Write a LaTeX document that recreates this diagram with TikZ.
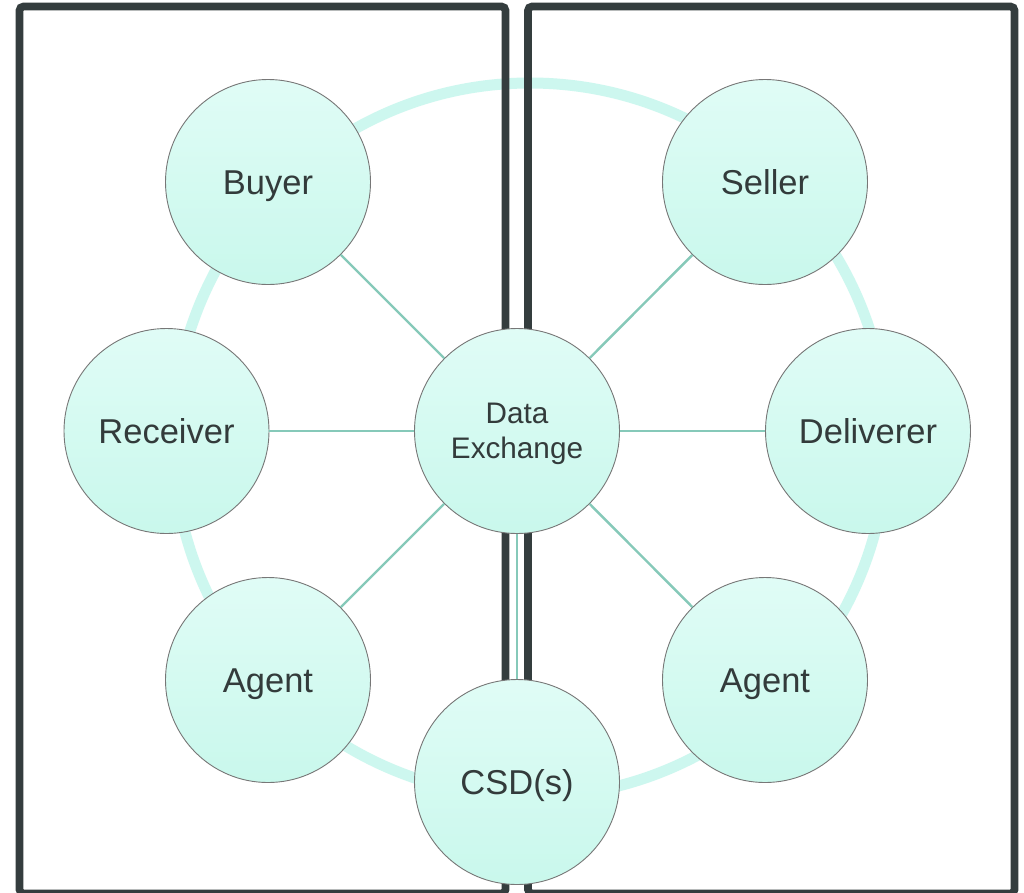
\documentclass[tikz,border=0pt]{standalone}
\usepackage{fontspec}
\setmainfont{Liberation Sans}
\definecolor{ringc}{HTML}{CDF7EF}
\definecolor{spokec}{HTML}{86C9B9}
\definecolor{filltop}{HTML}{E0FCF6}
\definecolor{fillbot}{HTML}{C9F8EC}
\definecolor{edgec}{HTML}{777777}
\definecolor{textc}{HTML}{333B3B}
\definecolor{boxc}{HTML}{343D3E}
\tikzset{
  party/.style={circle, minimum size=205pt, inner sep=0pt, draw=edgec, line width=0.9pt,
    top color=filltop, bottom color=fillbot, text=textc,
    font=\fontsize{34.5pt}{40pt}\selectfont, text height=24.8pt, text depth=0pt},
  hub/.style={party, font=\fontsize{29.7pt}{35pt}\selectfont, align=center, text height=62pt, text depth=6.5pt},
  spoke/.style={draw=spokec, line width=2.4pt},
  ring/.style={draw=ringc, line width=11pt},
  panel/.style={draw=boxc, line width=7.7pt, rounded corners=4pt}
}
\begin{document}
\begin{tikzpicture}[x=1pt,y=-1pt]
\useasboundingbox (0,0) rectangle (1024,892);
\clip (0,0) rectangle (1024,892);
\fill[white] (0,0) rectangle (1024,892);
% ring
\draw[ring] (530,440) circle[radius=357];
% panels
\draw[panel] (19.5,6.5) rectangle (505.5,893.5);
\draw[panel] (528,6.5) rectangle (1014.5,893.5);
% nodes
\node[hub] (de) at (517,431) {Data\\Exchange};
\node[party] (buyer) at (268,182) {Buyer};
\node[party] (receiver) at (166.5,431) {Receiver};
\node[party] (agentl) at (268,680) {Agent};
\node[party] (csd) at (517,782) {CSD(s)};
\node[party] (seller) at (765,182) {Seller};
\node[party] (deliverer) at (868,431) {Deliverer};
\node[party] (agentr) at (765,680) {Agent};
% spokes
\draw[spoke] (de) -- (buyer);
\draw[spoke] (de) -- (receiver);
\draw[spoke] (de) -- (agentl);
\draw[spoke] (de) -- (csd);
\draw[spoke] (de) -- (seller);
\draw[spoke] (de) -- (deliverer);
\draw[spoke] (de) -- (agentr);
\end{tikzpicture}
\end{document}
